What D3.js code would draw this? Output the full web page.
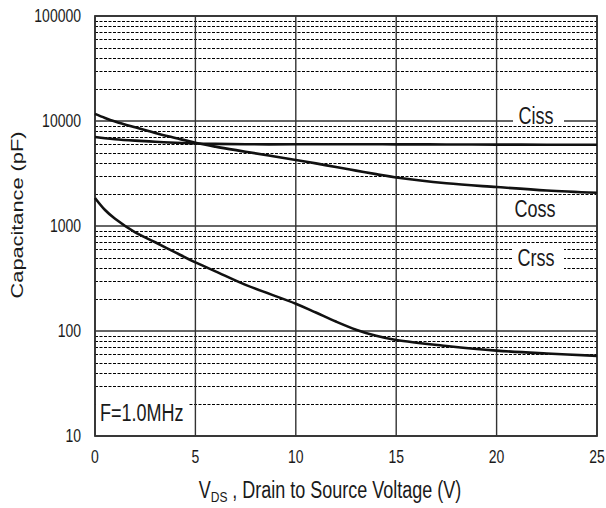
<!DOCTYPE html>
<html>
<head>
<meta charset="utf-8">
<script src="https://cdn.jsdelivr.net/npm/d3@7"></script>
<style>
  body { margin: 0; background: #fff; }
  text { font-family: "Liberation Sans", Arial, sans-serif; fill: #1a1a1a; }
</style>
</head>
<body>
<script>
// data
let vds  = [0, 0.5, 1, 2, 3, 4, 5, 6, 7.5, 10, 11, 12, 13, 14, 15, 17.5, 20, 22.5, 25];
let ciss = [7050, 6850, 6700, 6500, 6350, 6200, 6100, 6050, 6000, 6000, 6000, 6000, 6000, 6000, 5990, 5980, 5960, 5950, 5940];
let coss = [11700, 10700, 9900, 8700, 7700, 6900, 6200, 5700, 5100, 4250, 3950, 3640, 3370, 3120, 2900, 2550, 2350, 2180, 2070];
let crss = [1850, 1420, 1170, 870, 700, 560, 450, 370, 275, 182, 150, 123, 103, 90, 82, 72, 65, 61, 58];
let xTicks = [0, 5, 10, 15, 20, 25];
let yTicks = [10, 100, 1000, 10000, 100000];
let labels = ['Ciss', 'Coss', 'Crss'];

let width = 606;
let height = 508;
let stretch = 1.28; // text in the picture is drawn tall and narrow

let svg = d3.select('body')
    .append('svg')
    .attr('width', width)
    .attr('height', height);

// plot box
let box = {left: 95, right: 597, top: 16, bottom: 436};

let x = d3.scaleLinear().domain([0, 25]).range([box.left, box.right]);
let y = d3.scaleLog().domain([10, 100000]).range([box.bottom, box.top]);

// minor grid: 2..9 in each decade
let minor = [];
yTicks.slice(0, -1).forEach(function (d) {
    for (let k = 2; k <= 9; k++) minor.push(d * k);
});

svg.append('g')
    .selectAll('line')
    .data(minor)
    .enter()
    .append('line')
    .attr('x1', box.left)
    .attr('x2', box.right)
    .attr('y1', function (d) { return Math.round(y(d)) + 0.5; })
    .attr('y2', function (d) { return Math.round(y(d)) + 0.5; })
    .attr('stroke', '#000')
    .attr('stroke-width', 1.1)
    .attr('stroke-dasharray', '3,1.5');

// decade lines
svg.append('g')
    .selectAll('line')
    .data(yTicks)
    .enter()
    .append('line')
    .attr('x1', box.left)
    .attr('x2', box.right)
    .attr('y1', function (d) { return y(d); })
    .attr('y2', function (d) { return y(d); })
    .attr('stroke', '#333')
    .attr('stroke-width', 1.6);

// vertical lines
svg.append('g')
    .selectAll('line')
    .data(xTicks)
    .enter()
    .append('line')
    .attr('x1', function (d) { return x(d); })
    .attr('x2', function (d) { return x(d); })
    .attr('y1', box.top)
    .attr('y2', box.bottom)
    .attr('stroke', '#333')
    .attr('stroke-width', 1.4);

// frame
svg.append('rect')
    .attr('x', box.left)
    .attr('y', box.top)
    .attr('width', box.right - box.left)
    .attr('height', box.bottom - box.top)
    .attr('fill', 'none')
    .attr('stroke', '#333')
    .attr('stroke-width', 1.8);

// curves
let line = d3.line()
    .x(function (d) { return x(d[0]); })
    .y(function (d) { return y(d[1]); })
    .curve(d3.curveCatmullRom.alpha(0.5));

[ciss, coss, crss].forEach(function (s) {
    svg.append('path')
        .datum(d3.zip(vds, s))
        .attr('d', line)
        .attr('fill', 'none')
        .attr('stroke', '#111')
        .attr('stroke-width', 2.6);
});

// helper for the stretched text
function label(txt, px, py, size, anchor) {
    return svg.append('text')
        .attr('transform', 'translate(' + px + ',' + py + ') scale(1,' + stretch + ')')
        .attr('font-size', size)
        .attr('text-anchor', anchor)
        .text(txt);
}

// curve labels on white boxes
let labelPos = [[536, 124, 106, 126], [535, 216.5, 0, 0], [536, 266, 244, 270]];
labels.forEach(function (t, i) {
    let p = labelPos[i];
    if (p[3] > 0) {
        svg.append('rect')
            .attr('x', 513).attr('y', p[2])
            .attr('width', 51).attr('height', p[3] - p[2])
            .attr('fill', '#fff');
    }
    label(t, p[0], p[1], 18, 'middle');
});

// frequency note
svg.append('rect')
    .attr('x', box.left + 1).attr('y', 392)
    .attr('width', 92).attr('height', 42)
    .attr('fill', '#fff');
label('F=1.0MHz', 100, 421, 18, 'start');

// tick labels
xTicks.forEach(function (d) {
    label(d, x(d), 463, 14, 'middle');
});
yTicks.forEach(function (d) {
    label(d, 81, y(d) + 5.5, 14, 'end');
});

// axis titles
let xt = svg.append('text')
    .attr('transform', 'translate(330,498) scale(1,' + stretch + ')')
    .attr('font-size', 18)
    .attr('text-anchor', 'middle');
xt.append('tspan').text('V');
xt.append('tspan').attr('font-size', 12).attr('dy', 3).text('DS');
xt.append('tspan').attr('dy', -3).text(' , Drain to Source Voltage (V)');

svg.append('text')
    .attr('transform', 'translate(23,215) rotate(-90) scale(' + stretch + ',1)')
    .attr('font-size', 17)
    .attr('text-anchor', 'middle')
    .text('Capacitance (pF)');
</script>
</body>
</html>
